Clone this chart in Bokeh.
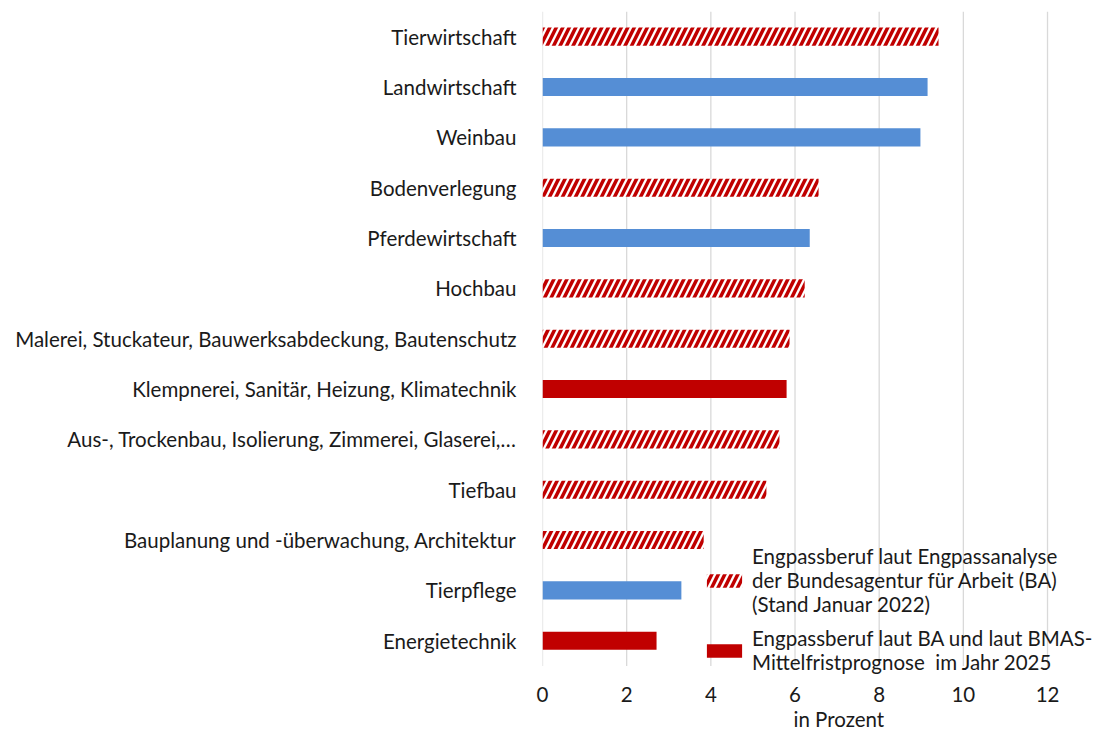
from bokeh.plotting import figure
from bokeh.models import (ColumnDataSource, Legend, LegendItem,
                          Title, FixedTicker, Range1d)
from bokeh.embed import file_html
from bokeh.resources import INLINE

# ---- data (top to bottom as in the chart) ----
categories = [
    "Tierwirtschaft",
    "Landwirtschaft",
    "Weinbau",
    "Bodenverlegung",
    "Pferdewirtschaft",
    "Hochbau",
    "Malerei, Stuckateur, Bauwerksabdeckung, Bautenschutz",
    "Klempnerei, Sanitär, Heizung, Klimatechnik",
    "Aus-, Trockenbau, Isolierung, Zimmerei, Glaserei,\u2026",
    "Tiefbau",
    "Bauplanung und -überwachung, Architektur",
    "Tierpflege",
    "Energietechnik",
]
values = [9.41, 9.15, 8.98, 6.56, 6.35, 6.23, 5.87, 5.80, 5.63, 5.32, 3.83, 3.30, 2.71]
kinds = ["ba", "other", "other", "ba", "other", "ba", "ba", "both", "ba", "ba", "ba", "other", "both"]

x_ticks = [0, 2, 4, 6, 8, 10, 12]
legend_ba = "Engpassberuf laut Engpassanalyse\nder Bundesagentur für Arbeit (BA)\n(Stand Januar 2022)"
legend_both = "Engpassberuf laut BA und laut BMAS-\nMittelfristprognose  im Jahr 2025"
x_label = "in Prozent"

FONT = "Lato"
FS = "20.5px"
TXT = "#1a1a1a"
RED = "#C00000"
BLUE = "#558ED5"

n = len(categories)
positions = list(range(n))


def subset(kind):
    pos = [i for i, k in zip(positions, kinds) if k == kind]
    vals = [v for v, k in zip(values, kinds) if k == kind]
    return ColumnDataSource(dict(pos=pos, val=vals))


p = figure(frame_width=553, frame_height=668, output_backend="svg", toolbar_location=None,
           y_range=Range1d(n - 0.23, -0.5),
           x_range=Range1d(0, 13.14),
           min_border_left=542, min_border_right=0, min_border_top=11, min_border_bottom=0)
p.outline_line_color = None
p.background_fill_color = "white"
p.xgrid.grid_line_color = None
p.ygrid.grid_line_color = None

# vertical gridlines spanning the category bands only
p.segment(x0=x_ticks, x1=x_ticks, y0=[-0.5] * len(x_ticks), y1=[n - 0.5] * len(x_ticks),
          line_color="#D9D9D9", line_width=1.3)

r_other = p.hbar(y="pos", right="val", left=0, height=0.36, source=subset("other"),
                 fill_color=BLUE, line_color=None)
r_ba = p.hbar(y="pos", right="val", left=0, height=0.36, source=subset("ba"),
              fill_color="white", line_color=None,
              hatch_pattern="/", hatch_color=RED, hatch_weight=3.5, hatch_scale=13)
r_both = p.hbar(y="pos", right="val", left=0, height=0.36, source=subset("both"),
                fill_color=RED, line_color=None)

# axes
p.xaxis.ticker = FixedTicker(ticks=x_ticks)
p.xaxis.axis_line_color = None
p.xaxis.major_tick_line_color = None
p.xaxis.minor_tick_line_color = None
p.xaxis.major_label_standoff = 1
p.xaxis.major_label_text_font = FONT
p.xaxis.major_label_text_font_size = FS
p.xaxis.major_label_text_color = TXT

p.yaxis.ticker = FixedTicker(ticks=positions)
p.yaxis.major_label_overrides = {i: c for i, c in zip(positions, categories)}
p.yaxis.axis_line_color = None
p.yaxis.major_tick_line_color = None
p.yaxis.minor_tick_line_color = None
p.yaxis.major_label_standoff = 20
p.yaxis.major_label_text_font = FONT
p.yaxis.major_label_text_font_size = FS
p.yaxis.major_label_text_color = TXT

# x axis label as a title below, positioned like the original
t = Title(text=x_label, align="left", offset=251, text_font=FONT,
          text_font_size=FS, text_font_style="normal", text_color=TXT, standoff=0)
p.add_layout(t, "below")

legend = Legend(items=[LegendItem(label=legend_ba, renderers=[r_ba]),
                       LegendItem(label=legend_both, renderers=[r_both])],
                location=(160, 5), orientation="vertical",
                label_text_font=FONT, label_text_font_size=FS,
                label_text_color=TXT, label_text_line_height=1.37,
                glyph_width=44, glyph_height=17, label_standoff=6,
                spacing=10, padding=0, margin=0,
                background_fill_alpha=0, border_line_alpha=0)
p.add_layout(legend, "center")

open("out.html", "w").write(file_html(p, INLINE))
